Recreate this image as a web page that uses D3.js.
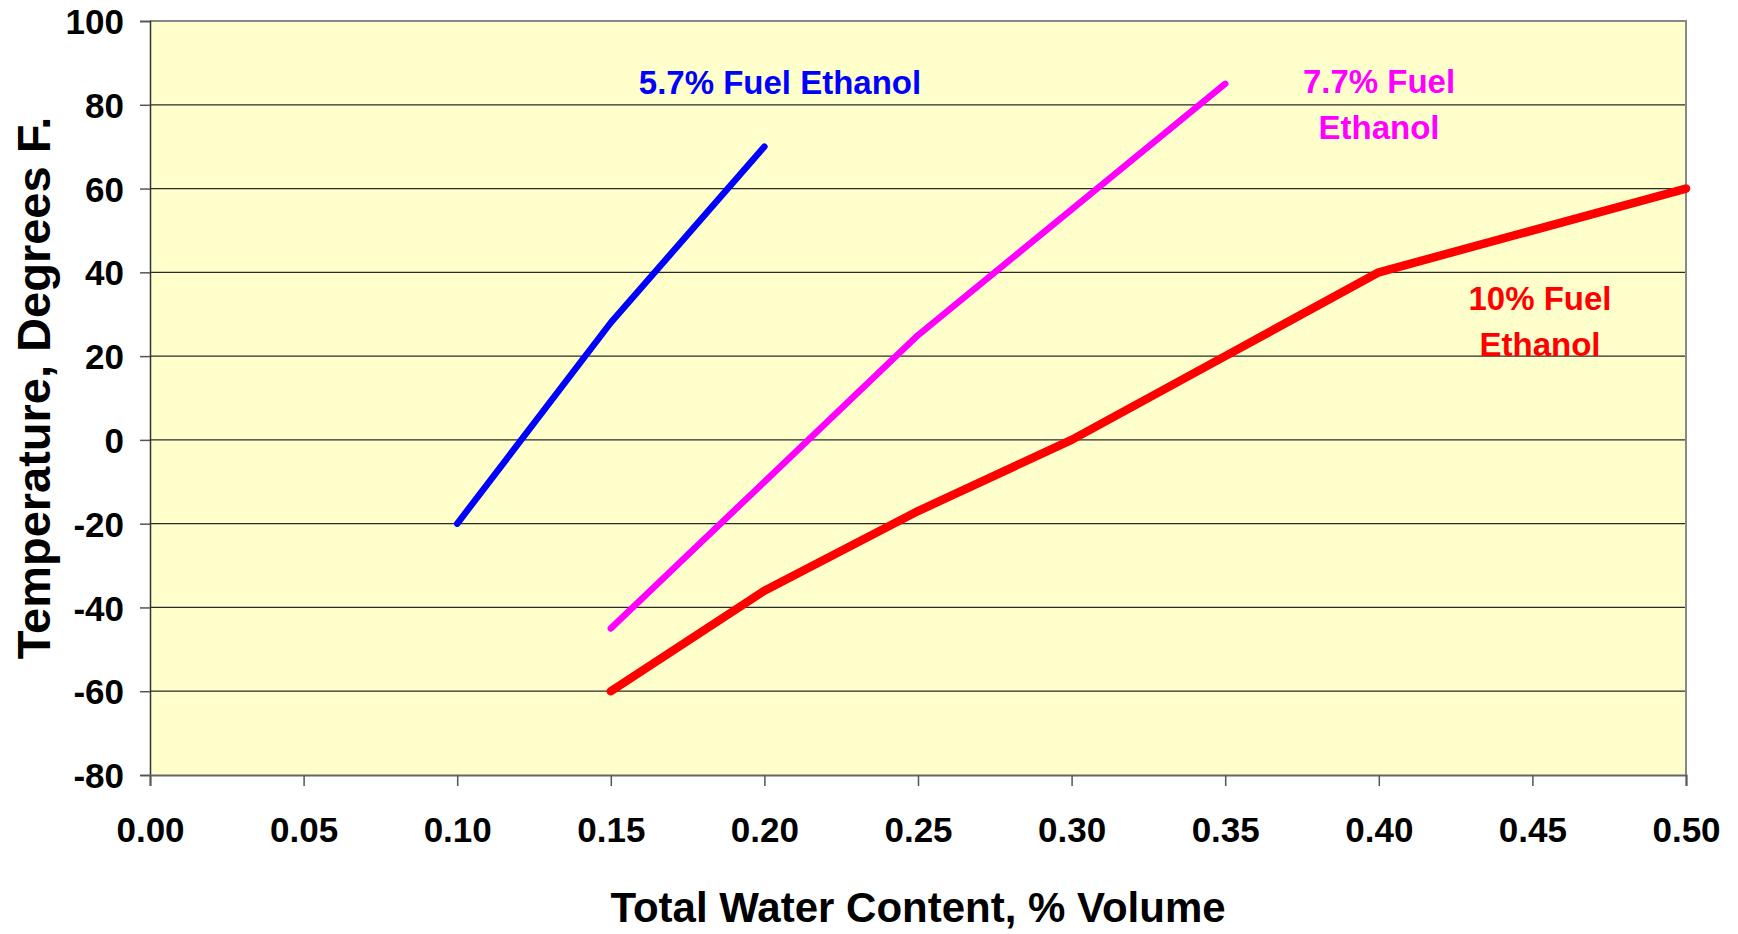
<!DOCTYPE html>
<html>
<head>
<meta charset="utf-8">
<script src="https://cdn.jsdelivr.net/npm/d3@7"></script>
<style>
  body { margin: 0; background: #fff; }
  text { font-family: "Liberation Sans", Arial, sans-serif; font-weight: bold; }
</style>
</head>
<body>
<div id="chart"></div>
<script>
// readings
let xTicks = [0, 0.05, 0.10, 0.15, 0.20, 0.25, 0.30, 0.35, 0.40, 0.45, 0.50];
let yTicks = [-80, -60, -40, -20, 0, 20, 40, 60, 80, 100];

let blueX = [0.10, 0.15, 0.20];
let blueY = [-20, 28, 70];

let pinkX = [0.15, 0.20, 0.25, 0.30, 0.35];
let pinkY = [-45, -10, 25, 55, 85];

let redX = [0.15, 0.20, 0.25, 0.30, 0.35, 0.40, 0.50];
let redY = [-60, -36, -17, 0, 20, 40, 60];

let seriesNames = ['5.7% Fuel Ethanol', '7.7% Fuel Ethanol', '10% Fuel Ethanol'];

let width = 1738, height = 934;
let margin = {top: 21, right: 52, bottom: 159, left: 150};
let w = width - margin.left - margin.right;
let h = height - margin.top - margin.bottom;

let svg = d3.select('#chart').append('svg')
    .attr('width', width)
    .attr('height', height);

let x = d3.scaleLinear().domain([0, 0.5]).range([margin.left, margin.left + w]);
let y = d3.scaleLinear().domain([-80, 100]).range([margin.top + h, margin.top]);

// plot background
svg.append('rect')
    .attr('x', x(0)).attr('y', y(100))
    .attr('width', x(0.5) - x(0)).attr('height', y(-80) - y(100))
    .attr('fill', '#ffffcc');

// horizontal gridlines
svg.append('g')
    .selectAll('line')
    .data(yTicks.filter(d => d > -80 && d < 100))
    .join('line')
    .attr('x1', x(0)).attr('x2', x(0.5))
    .attr('y1', d => y(d)).attr('y2', d => y(d))
    .attr('stroke', '#2a2a2a')
    .attr('stroke-width', 1.3);

// frame: top and right in grey
svg.append('path')
    .attr('d', `M${x(0)},${y(100)}H${x(0.5)}V${y(-80)}`)
    .attr('fill', 'none')
    .attr('stroke', '#888')
    .attr('stroke-width', 2);

// y axis (plain hyphen for negatives, like the original)
let yAxis = svg.append('g')
    .attr('transform', `translate(${x(0)},0)`)
    .call(d3.axisLeft(y).tickValues(yTicks).tickSize(10).tickPadding(16).tickFormat(d => String(d)));
yAxis.select('.domain').attr('stroke', '#333').attr('stroke-width', 1.5);
yAxis.selectAll('.tick line').attr('stroke', '#555').attr('stroke-width', 1.5);
yAxis.selectAll('.tick text')
    .attr('fill', '#000')
    .style('font-size', '35px')
    .attr('dy', '0.36em');

// x axis
let xAxis = svg.append('g')
    .attr('transform', `translate(0,${y(-80)})`)
    .call(d3.axisBottom(x).tickValues(xTicks).tickSize(11).tickPadding(31).tickFormat(d3.format('.2f')));
xAxis.select('.domain').attr('stroke', '#666').attr('stroke-width', 2);
xAxis.selectAll('.tick line').attr('stroke', '#555').attr('stroke-width', 1.5);
xAxis.selectAll('.tick text')
    .attr('fill', '#000')
    .style('font-size', '35px');

// axis titles
svg.append('text')
    .attr('x', (x(0) + x(0.5)) / 2)
    .attr('y', 922)
    .attr('text-anchor', 'middle')
    .style('font-size', '42px')
    .text('Total Water Content, % Volume');

svg.append('text')
    .attr('transform', `translate(50,${(y(100) + y(-80)) / 2 - 10}) rotate(-90)`)
    .attr('text-anchor', 'middle')
    .style('font-size', '47px')
    .text('Temperature, Degrees F.');

// lines
let line = d3.line().x(d => x(d[0])).y(d => y(d[1]));

let series = [
    {xs: blueX, ys: blueY, color: '#0000ff', sw: 6.5},
    {xs: pinkX, ys: pinkY, color: '#ff00ff', sw: 6.5},
    {xs: redX, ys: redY, color: '#ff0000', sw: 8.5}
];

svg.append('g')
    .selectAll('path')
    .data(series)
    .join('path')
    .attr('d', s => line(s.xs.map((v, i) => [v, s.ys[i]])))
    .attr('fill', 'none')
    .attr('stroke', s => s.color)
    .attr('stroke-width', s => s.sw)
    .attr('stroke-linecap', 'round')
    .attr('stroke-linejoin', 'round');

// series labels
function label(lines, cx, cy, color) {
    let t = svg.append('text')
        .attr('text-anchor', 'middle')
        .attr('fill', color)
        .style('font-size', '33px');
    lines.forEach((l, i) => {
        t.append('tspan').attr('x', cx).attr('y', cy + i * 46).text(l);
    });
}

label([seriesNames[0]], 780, 94, '#0000ff');
label(['7.7% Fuel', 'Ethanol'], 1379, 93, '#ff00ff');
label(['10% Fuel', 'Ethanol'], 1540, 310, '#ff0000');
</script>
</body>
</html>
